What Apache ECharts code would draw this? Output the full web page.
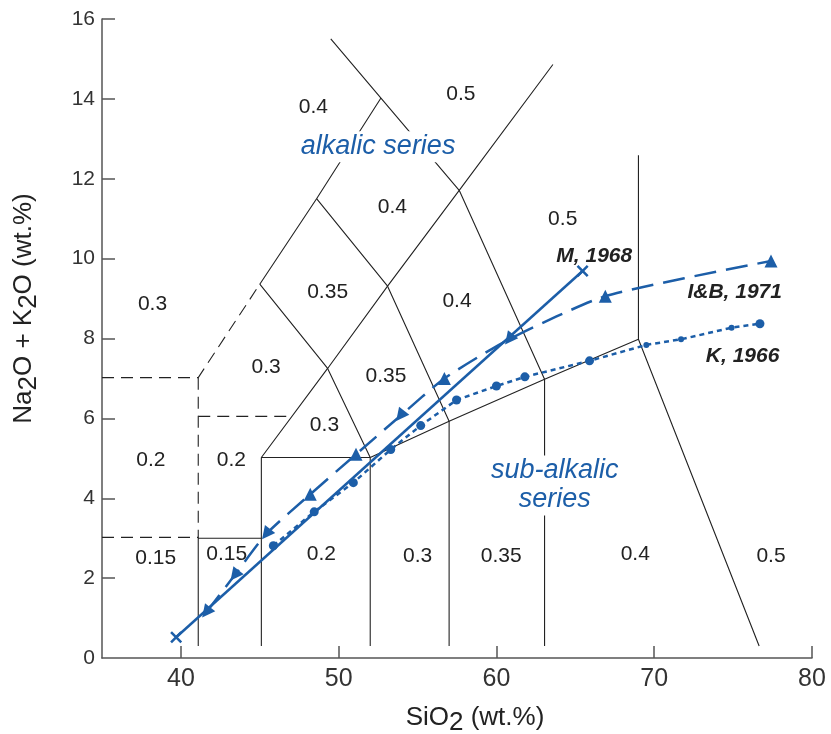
<!DOCTYPE html>
<html><head><meta charset="utf-8">
<script src="https://cdn.jsdelivr.net/npm/echarts@6/dist/echarts.min.js"></script>
<style>html,body{margin:0;padding:0;background:#fff}#c{width:831px;height:734px}</style>
</head><body><div id="c"></div>
<script>
// ---- data ----
const xTickValues = [40, 50, 60, 70, 80];
const yTickValues = [2, 4, 6, 8, 10, 12, 14, 16];
const yLabelValues = [0, 2, 4, 6, 8, 10, 12, 14, 16];

const seriesM = [[39.7, 0.52], [65.46, 9.69]];
const seriesIB = [[41.6, 1.14], [43.4, 2.07], [45.4, 3.1], [48.2, 4.1], [51.1, 5.1],
  [53.9, 6.06], [56.7, 7.0], [60.8, 7.98], [66.9, 9.06], [77.4, 9.94]];
const seriesK = [[45.86, 2.81], [48.45, 3.66], [50.93, 4.39], [53.3, 5.22], [55.2, 5.82],
  [57.47, 6.46], [60.0, 6.81], [61.8, 7.04], [65.9, 7.44], [69.5, 7.84], [71.7, 7.98],
  [74.9, 8.27], [76.7, 8.37]];

const solidBoundaries = [
  [[41.1, 0.3], [41.1, 3], [45.1, 3]],
  [[45.1, 0.3], [45.1, 5.02], [52, 5.02], [52, 0.3]],
  [[52, 5.02], [57, 5.93], [63.05, 6.98], [69, 7.98], [76.65, 0.3]],
  [[57, 0.3], [57, 5.93], [53.1, 9.31], [48.6, 11.5]],
  [[63.05, 0.3], [63.05, 6.98], [57.64, 11.71], [52.68, 14.02], [49.5, 15.5]],
  [[45.1, 5.02], [49.3, 7.25], [53.1, 9.31], [57.64, 11.71], [63.58, 14.86]],
  [[52, 5.02], [49.3, 7.25], [45.0, 9.36]],
  [[45.0, 9.36], [48.6, 11.5], [52.68, 14.02]],
  [[69, 7.98], [69, 12.59]]
];
const dashedBoundaries = [
  [[35, 7.02], [41.1, 7.02], [45.0, 9.36]],
  [[41.1, 7.02], [41.1, 3]],
  [[35, 3.02], [41.1, 3.02]],
  [[41.1, 6.05], [47.0, 6.05]]
];

const zoneLabels = [
  [48.4, 13.8, '0.4'], [57.75, 14.12, '0.5'], [53.4, 11.29, '0.4'], [64.2, 10.98, '0.5'],
  [49.3, 9.16, '0.35'], [57.5, 8.93, '0.4'], [38.2, 8.85, '0.3'], [45.4, 7.28, '0.3'],
  [53.0, 7.06, '0.35'], [49.1, 5.82, '0.3'], [38.1, 4.95, '0.2'], [43.2, 4.95, '0.2'],
  [38.4, 2.49, '0.15'], [42.9, 2.59, '0.15'], [48.9, 2.59, '0.2'], [55.0, 2.56, '0.3'],
  [60.3, 2.56, '0.35'], [68.8, 2.59, '0.4'], [77.4, 2.56, '0.5']
];
const seriesNames = [[66.2, 10.06, 'M, 1968'], [75.1, 9.16, 'I&B, 1971'], [75.6, 7.56, 'K, 1966']];
const seriesNotes = [[52.5, 12.8, 'alkalic series'], [63.7, 4.32, 'sub-alkalic\nseries']];

// ---- styles ----
const FONT = 'Liberation Sans, Arial, sans-serif';
const BLUE = '#1c5ea8';
const ibPointsDown = [true, true, true, false, false, true, false, true, false, false];
const kSmallIdx = [9, 10, 11];
const xSymbol = 'path://M0,1.5L1.5,0L5,3.5L8.5,0L10,1.5L6.5,5L10,8.5L8.5,10L5,6.5L1.5,10L0,8.5L3.5,5Z';
const hidden = {color: 'rgba(0,0,0,0)', opacity: 1};

const chart = echarts.init(document.getElementById('c'), null, {renderer: 'canvas'});

const series = [];
solidBoundaries.forEach(d => series.push({
  type: 'line', data: d, symbol: 'none', silent: true, animation: false, z: 1,
  lineStyle: {color: '#222', width: 1.1}
}));
dashedBoundaries.forEach(d => series.push({
  type: 'line', data: d, symbol: 'none', silent: true, animation: false, z: 1,
  lineStyle: {color: '#222', width: 1.1, type: [12, 7]}
}));
series.push({
  type: 'scatter', data: zoneLabels, symbolSize: 1, silent: true, animation: false, z: 2,
  itemStyle: hidden,
  label: {show: true, position: 'inside', formatter: p => p.data[2], fontSize: 21, color: '#222', fontFamily: FONT}
});
series.push({
  type: 'scatter', data: seriesNotes, symbolSize: 1, silent: true, animation: false, z: 3,
  itemStyle: hidden,
  label: {show: true, position: 'inside', formatter: p => p.data[2], fontSize: 27, lineHeight: 29,
    fontStyle: 'italic', color: BLUE, fontFamily: FONT, backgroundColor: '#fff', padding: [1, 3], align: 'center'}
});
series.push({
  type: 'scatter', data: seriesNames, symbolSize: 1, silent: true, animation: false, z: 3,
  itemStyle: hidden,
  label: {show: true, position: 'inside', formatter: p => p.data[2], fontSize: 21,
    fontStyle: 'italic', fontWeight: 'bold', color: '#222', fontFamily: FONT}
});
series.push({
  type: 'line', name: 'M, 1968', data: seriesM, symbol: xSymbol, symbolSize: 12, z: 5, animation: false,
  lineStyle: {color: BLUE, width: 2.5}, itemStyle: {color: BLUE}
});
series.push({
  type: 'line', name: 'I&B, 1971', z: 5, animation: false, smooth: 0.2,
  data: seriesIB.map((p, i) => ({value: p, symbolRotate: ibPointsDown[i] ? 142 : 0})),
  symbol: 'triangle', symbolSize: 13,
  lineStyle: {color: BLUE, width: 2.5, type: [22, 10]}, itemStyle: {color: BLUE}
});
series.push({
  type: 'line', name: 'K, 1966', z: 5, animation: false,
  data: seriesK.map((p, i) => ({value: p, symbolSize: kSmallIdx.includes(i) ? 6 : 9})),
  symbol: 'circle',
  lineStyle: {color: BLUE, width: 2.5, type: [5, 4]}, itemStyle: {color: BLUE}
});

const axisColor = '#555';
const richName = {
  n: {fontSize: 26, color: '#222', fontFamily: FONT},
  s: {fontSize: 26, color: '#222', fontFamily: FONT, padding: [10, 0, 0, 0]}
};

chart.setOption({
  animation: false,
  grid: {left: 102, right: 19, top: 19, bottom: 76, containLabel: false, outerBoundsMode: 'none'},
  xAxis: {
    type: 'value', min: 35, max: 80,
    name: '{n|SiO}{s|2}{n| (wt.%)}', nameLocation: 'middle', nameGap: 42,
    nameTextStyle: {rich: richName, padding: [0, 0, 0, 36]},
    axisLine: {show: true, lineStyle: {color: axisColor, width: 1.5}},
    axisTick: {show: true, inside: true, length: 12, customValues: xTickValues, lineStyle: {color: axisColor, width: 1.5}},
    axisLabel: {customValues: xTickValues, fontSize: 25, color: '#333', margin: 9, fontFamily: FONT},
    splitLine: {show: false}
  },
  yAxis: {
    type: 'value', min: 0, max: 16,
    name: '{n|Na}{s|2}{n|O + K}{s|2}{n|O (wt.%)}', nameLocation: 'middle', nameGap: 60,
    nameTextStyle: {rich: richName, padding: [0, 0, 0, 60]},
    axisLine: {show: true, lineStyle: {color: axisColor, width: 1.5}},
    axisTick: {show: true, inside: true, length: 13, customValues: yTickValues, lineStyle: {color: axisColor, width: 1.5}},
    axisLabel: {customValues: yLabelValues, fontSize: 21, color: '#333', margin: 7, fontFamily: FONT},
    splitLine: {show: false}
  },
  series: series
});
</script></body></html>
